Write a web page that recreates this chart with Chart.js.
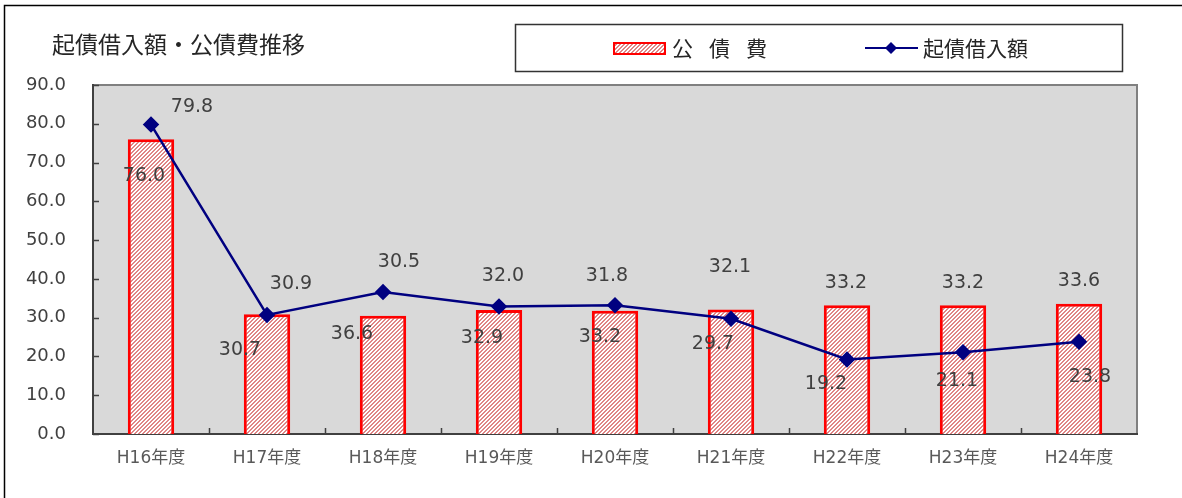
<!DOCTYPE html>
<html>
<head>
<meta charset="utf-8">
<script src="https://cdn.jsdelivr.net/npm/chart.js@4.4.0/dist/chart.umd.min.js"></script>
<style>
  html, body { margin: 0; padding: 0; background: #fff; }
  #grafico { display: block; }
</style>
</head>
<body>
<canvas id="grafico" width="1182" height="498"></canvas>
<script>
// dados do gráfico
var categorias = ['H16年度', 'H17年度', 'H18年度', 'H19年度', 'H20年度', 'H21年度', 'H22年度', 'H23年度', 'H24年度'];
var kousaihi = [76.0, 30.9, 30.5, 32.0, 31.8, 32.1, 33.2, 33.2, 33.6];
var kisai_kariire = [79.8, 30.7, 36.6, 32.9, 33.2, 29.7, 19.2, 21.1, 23.8];
var ticks_y = [0, 10, 20, 30, 40, 50, 60, 70, 80, 90];

var titulo = '起債借入額・公債費推移';
var nome_barra = '公債費';
var nome_linha = '起債借入額';

// deslocamento dos rótulos (posicionados à mão como no original)
var rot_barra_dx = [-7, 24, 16, 4, -8, -1, -1, 0, 0];
var rot_barra_dy = [37, -30, -54, -34, -35, -42, -22, -22, -23];
var rot_linha_dx = [41, -27, -31, -17, -15, -18, -21, -6, 11];
var rot_linha_dy = [-17, 35, 42, 32, 32, 25, 25, 29, 35];

var fonte_num = '"DejaVu Sans", "Noto Sans CJK JP", sans-serif';
var fonte_jp = '"Noto Sans CJK JP", "DejaVu Sans", sans-serif';

// padrão hachurado das barras (listras de 2px, período 4px)
function criar_hachura() {
    var c = document.createElement('canvas');
    c.width = 4;
    c.height = 4;
    var g = c.getContext('2d');
    g.fillStyle = '#ffffff';
    g.fillRect(0, 0, 4, 4);
    g.fillStyle = '#e08585';
    for (var k = 0; k < 4; k++) {
        g.fillRect(k, 3 - k, 1, 1);
        g.fillRect(k, (4 - k) % 4, 1, 1);
    }
    return g.createPattern(c, 'repeat');
}
var hachura = criar_hachura();

// fundo cinza, moldura e ticks para dentro
var plugin_fundo = {
    id: 'fundo',
    beforeDraw(chart) {
        var ctx = chart.ctx;
        var a = chart.chartArea;
        ctx.save();
        ctx.fillStyle = '#ffffff';
        ctx.fillRect(0, 0, chart.width, chart.height);
        // moldura externa
        ctx.strokeStyle = '#000000';
        ctx.lineWidth = 1.5;
        ctx.beginPath();
        ctx.moveTo(4.5, chart.height + 2);
        ctx.lineTo(4.5, 5.5);
        ctx.lineTo(chart.width + 2, 5.5);
        ctx.stroke();
        // área do gráfico
        ctx.fillStyle = '#d9d9d9';
        ctx.fillRect(a.left, a.top, a.right - a.left, a.bottom - a.top);
        ctx.strokeStyle = '#808080';
        ctx.lineWidth = 2;
        ctx.beginPath();
        ctx.moveTo(a.left, a.top);
        ctx.lineTo(a.right, a.top);
        ctx.lineTo(a.right, a.bottom);
        ctx.stroke();
        ctx.restore();
    },
    afterDraw(chart) {
        var ctx = chart.ctx;
        var a = chart.chartArea;
        var sy = chart.scales.y;
        var sx = chart.scales.x;
        ctx.save();
        ctx.strokeStyle = '#404040';
        ctx.lineWidth = 1.5;
        ctx.beginPath();
        for (var i = 0; i < ticks_y.length; i++) {
            var py = Math.round(sy.getPixelForValue(ticks_y[i])) + 0.5;
            ctx.moveTo(a.left, py);
            ctx.lineTo(a.left + 6, py);
        }
        for (var j = 1; j < categorias.length; j++) {
            var px = Math.round((sx.getPixelForValue(j - 1) + sx.getPixelForValue(j)) / 2) + 0.5;
            ctx.moveTo(px, a.bottom);
            ctx.lineTo(px, a.bottom - 6);
        }
        ctx.stroke();
        ctx.restore();
    }
};

// rótulos de valores
var plugin_rotulos = {
    id: 'rotulos',
    afterDatasetsDraw(chart) {
        var ctx = chart.ctx;
        ctx.save();
        ctx.font = '19px ' + fonte_num;
        ctx.fillStyle = '#404040';
        ctx.textAlign = 'center';
        ctx.textBaseline = 'middle';
        var barras = chart.getDatasetMeta(0).data;
        var pontos = chart.getDatasetMeta(1).data;
        for (var i = 0; i < categorias.length; i++) {
            ctx.fillText(kousaihi[i].toFixed(1), barras[i].x + rot_barra_dx[i], barras[i].y + rot_barra_dy[i]);
            ctx.fillText(kisai_kariire[i].toFixed(1), pontos[i].x + rot_linha_dx[i], pontos[i].y + rot_linha_dy[i]);
        }
        ctx.restore();
    }
};

// título e legenda
var plugin_legenda = {
    id: 'legenda',
    afterDraw(chart) {
        var ctx = chart.ctx;
        ctx.save();
        ctx.fillStyle = '#262626';
        ctx.textBaseline = 'middle';
        ctx.textAlign = 'left';
        ctx.font = '23px ' + fonte_jp;
        ctx.fillText(titulo, 52, 44);

        // caixa
        ctx.strokeStyle = '#333333';
        ctx.lineWidth = 1.5;
        ctx.strokeRect(515.5, 24.5, 607, 47);

        // item barra
        ctx.fillStyle = hachura;
        ctx.fillRect(614, 43, 51, 11);
        ctx.strokeStyle = '#ff0000';
        ctx.lineWidth = 2;
        ctx.strokeRect(614, 43, 51, 11);
        ctx.fillStyle = '#262626';
        ctx.font = '21px ' + fonte_jp;
        var letras = nome_barra.split('');
        for (var i = 0; i < letras.length; i++) {
            ctx.fillText(letras[i], 672 + i * 37, 48);
        }

        // item linha
        ctx.strokeStyle = '#000080';
        ctx.lineWidth = 2;
        ctx.beginPath();
        ctx.moveTo(865, 48);
        ctx.lineTo(918, 48);
        ctx.stroke();
        ctx.fillStyle = '#000080';
        ctx.beginPath();
        ctx.moveTo(891, 42);
        ctx.lineTo(897, 48);
        ctx.lineTo(891, 54);
        ctx.lineTo(885, 48);
        ctx.closePath();
        ctx.fill();
        ctx.fillStyle = '#262626';
        ctx.fillText(nome_linha, 923, 48);
        ctx.restore();
    }
};

var ctx = document.getElementById('grafico');

new Chart(ctx, {
    data: {
        labels: categorias,
        datasets: [{
            type: 'bar',
            label: nome_barra,
            data: kousaihi,
            backgroundColor: hachura,
            borderColor: '#ff0000',
            borderWidth: 3,
            barPercentage: 0.4,
            categoryPercentage: 1.0,
            order: 2
        }, {
            type: 'line',
            label: nome_linha,
            data: kisai_kariire,
            borderColor: '#000080',
            borderWidth: 2.5,
            pointStyle: 'rectRot',
            pointRadius: 6.5,
            pointBackgroundColor: '#000080',
            pointBorderColor: '#000080',
            tension: 0,
            order: 1
        }]
    },
    options: {
        responsive: false,
        animation: false,
        devicePixelRatio: 1,
        layout: {
            padding: { top: 85, right: 45, left: 0, bottom: 0 }
        },
        plugins: {
            legend: { display: false },
            tooltip: { enabled: false }
        },
        scales: {
            x: {
                offset: true,
                grid: { display: false, drawTicks: false },
                border: { color: '#404040', width: 2 },
                ticks: {
                    color: '#595959',
                    font: { family: fonte_num, size: 17 },
                    padding: 14,
                    maxRotation: 0
                },
                afterFit(scale) { scale.height = 64; }
            },
            y: {
                min: 0,
                max: 90,
                afterBuildTicks(scale) {
                    scale.ticks = ticks_y.map(function (v) { return { value: v }; });
                },
                grid: { display: false, drawTicks: false },
                border: { color: '#404040', width: 2 },
                ticks: {
                    color: '#404040',
                    font: { family: fonte_num, size: 18 },
                    padding: 27,
                    callback: function (v) { return Number(v).toFixed(1); }
                },
                afterFit(scale) { scale.width = 93; }
            }
        }
    },
    plugins: [plugin_fundo, plugin_rotulos, plugin_legenda]
});
</script>
</body>
</html>
